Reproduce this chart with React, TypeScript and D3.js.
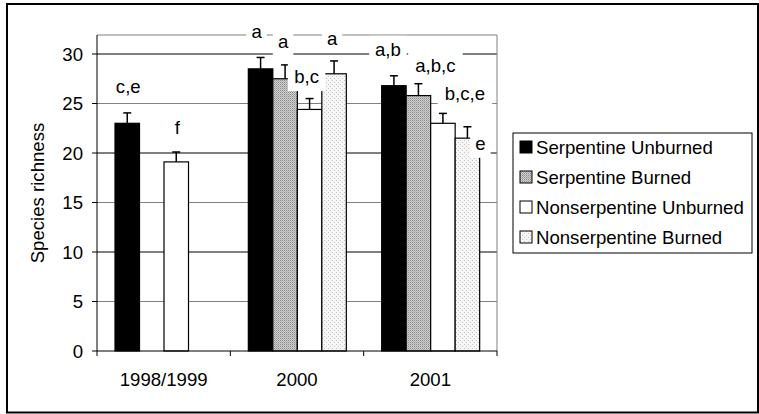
import * as d3 from "d3";

const categories = ["1998/1999", "2000", "2001"];
const seriesNames = [
  "Serpentine Unburned",
  "Serpentine Burned",
  "Nonserpentine Unburned",
  "Nonserpentine Burned",
];

// mean species richness per year (null = not sampled)
const serpUnburned = [23.0, 28.5, 26.8];
const serpBurned = [null, 27.5, 25.8];
const nonserpUnburned = [19.1, 24.4, 23.0];
const nonserpBurned = [null, 28.0, 21.5];

// upper error (SE)
const serpUnburnedErr = [1.05, 1.15, 1.0];
const serpBurnedErr = [null, 1.4, 1.2];
const nonserpUnburnedErr = [1.0, 1.1, 1.0];
const nonserpBurnedErr = [null, 1.3, 1.15];

// significance letters
const serpUnburnedSig = ["c,e", "a", "a,b"];
const serpBurnedSig = ["", "a", "a,b,c"];
const nonserpUnburnedSig = ["f", "b,c", "b,c,e"];
const nonserpBurnedSig = ["", "a", "e"];

const yTicks = [0, 5, 10, 15, 20, 25, 30];

// label placement relative to error bar top: [dx, dy] per series per year
const labelOffsets = [
  [[1, -26], [-4, -25.5], [-6, -26]],
  [[0, 0], [-2, -23], [17, -18]],
  [[1, -24], [-3, -21.5], [22, -19]],
  [[0, 0], [-2, -22], [13, 17]],
];

const means = [serpUnburned, serpBurned, nonserpUnburned, nonserpBurned];
const errs = [serpUnburnedErr, serpBurnedErr, nonserpUnburnedErr, nonserpBurnedErr];
const sigs = [serpUnburnedSig, serpBurnedSig, nonserpUnburnedSig, nonserpBurnedSig];
const fills = ["#000000", "url(#hatch)", "#ffffff", "url(#dots)"];

const W = 759;
const H = 414;
const PLOT = { LEFT: 97, RIGHT: 497, TOP: 35, BOTTOM: 351 };
const FONT = "'Liberation Sans', Arial, sans-serif";
const FS = 18.6;

const App = () => {
  const x0 = d3
    .scaleBand<string>()
    .domain(categories)
    .range([PLOT.LEFT, PLOT.RIGHT])
    .padding(0);
  const bw = x0.bandwidth();
  const x1 = d3
    .scaleBand<string>()
    .domain(seriesNames)
    .range([bw * 0.135, bw * 0.87])
    .padding(0);
  const y = d3.scaleLinear().domain([0, 30]).range([PLOT.BOTTOM, 54]);

  const bars: any[] = [];
  means.forEach((vals, si) => {
    vals.forEach((v, ci) => {
      if (v === null) return;
      const e = errs[si][ci] as number;
      const xl = (x0(categories[ci]) as number) + (x1(seriesNames[si]) as number);
      bars.push({
        si,
        ci,
        v,
        e,
        x: xl,
        cx: xl + x1.bandwidth() / 2,
        sig: sigs[si][ci],
        off: labelOffsets[si][ci],
      });
    });
  });

  const measure = (t: string) => t.length * 8.5;

  return (
    <svg
      width={W}
      height={H}
      style={{ position: "absolute", left: 0, top: 0, background: "#fff" }}
      fontFamily={FONT}
    >
      <defs>
        <pattern id="hatch" width="2" height="2" patternUnits="userSpaceOnUse">
          <rect width="2" height="2" fill="#d2d2d2" />
          <rect x="0" y="0" width="1" height="1" fill="#8a8a8a" />
          <rect x="1" y="1" width="1" height="1" fill="#a8a8a8" />
        </pattern>
        <pattern id="dots" width="4" height="4" patternUnits="userSpaceOnUse">
          <rect width="4" height="4" fill="#f6f6f6" />
          <rect x="0" y="0" width="1" height="1" fill="#c4c4c4" />
          <rect x="2" y="2" width="1" height="1" fill="#c4c4c4" />
        </pattern>
      </defs>

      {/* outer chart border */}
      <rect x={7} y={4} width={751} height={408.5} fill="none" stroke="#000" strokeWidth={2} />

      {/* gridlines */}
      {yTicks.slice(1).map((t) => (
        <line
          key={t}
          x1={PLOT.LEFT}
          x2={PLOT.RIGHT}
          y1={y(t)}
          y2={y(t)}
          stroke={t % 10 === 0 ? "#000" : "#808080"}
          strokeWidth={1}
        />
      ))}
      {/* plot frame top/right */}
      <line x1={PLOT.LEFT} x2={PLOT.RIGHT} y1={PLOT.TOP} y2={PLOT.TOP} stroke="#808080" />
      <line x1={PLOT.RIGHT} x2={PLOT.RIGHT} y1={PLOT.TOP} y2={PLOT.BOTTOM} stroke="#808080" />

      {/* bars */}
      {bars.map((b) => (
        <rect
          key={`b${b.si}-${b.ci}`}
          x={b.x}
          y={y(b.v)}
          width={x1.bandwidth()}
          height={PLOT.BOTTOM - y(b.v)}
          fill={fills[b.si]}
          stroke="#000"
          strokeWidth={1.2}
        />
      ))}

      {/* error bars */}
      {bars.map((b) => (
        <g key={`e${b.si}-${b.ci}`} stroke="#000" strokeWidth={1.5}>
          <line x1={b.cx} x2={b.cx} y1={y(b.v)} y2={y(b.v + b.e)} />
          <line x1={b.cx - 4} x2={b.cx + 4} y1={y(b.v + b.e)} y2={y(b.v + b.e)} />
        </g>
      ))}

      {/* axes */}
      <line x1={PLOT.LEFT} x2={PLOT.LEFT} y1={PLOT.TOP} y2={PLOT.BOTTOM} stroke="#000" />
      <line x1={PLOT.LEFT} x2={PLOT.RIGHT} y1={PLOT.BOTTOM} y2={PLOT.BOTTOM} stroke="#000" />
      {yTicks.map((t) => (
        <g key={`yt${t}`}>
          <line x1={PLOT.LEFT - 5} x2={PLOT.LEFT} y1={y(t)} y2={y(t)} stroke="#000" />
          <text x={83} y={y(t) + 6.5} fontSize={FS} textAnchor="end" fill="#000">
            {t}
          </text>
        </g>
      ))}
      {[...categories.map((c) => x0(c) as number), PLOT.RIGHT].map((xv, i) => (
        <line key={`xt${i}`} x1={xv} x2={xv} y1={PLOT.BOTTOM} y2={PLOT.BOTTOM + 5} stroke="#000" />
      ))}
      {categories.map((c) => (
        <text
          key={c}
          x={(x0(c) as number) + bw / 2}
          y={385.5}
          fontSize={FS}
          textAnchor="middle"
          fill="#000"
        >
          {c}
        </text>
      ))}
      <text
        transform={`translate(44, ${(PLOT.TOP + PLOT.BOTTOM) / 2}) rotate(-90)`}
        fontSize={FS}
        textAnchor="middle"
        fill="#000"
      >
        Species richness
      </text>

      {/* significance labels with white boxes */}
      {bars
        .filter((b) => b.sig)
        .map((b) => {
          const tx = b.cx + b.off[0];
          const ty = y(b.v + b.e) + b.off[1];
          const w = measure(b.sig) + 12;
          return (
            <g key={`l${b.si}-${b.ci}`}>
              <rect x={tx - w / 2} y={ty - 14} width={w} height={28} fill="#fff" />
              <text x={tx} y={ty + 6} fontSize={FS} textAnchor="middle" fill="#000">
                {b.sig}
              </text>
            </g>
          );
        })}

      {/* legend */}
      <rect x={513} y={133} width={239} height={120} fill="#fff" stroke="#000" strokeWidth={1} />
      {seriesNames.map((s, i) => (
        <g key={s} transform={`translate(520, ${147 + i * 30})`}>
          <rect x={0} y={-6} width={12} height={12} fill={fills[i]} stroke="#000" strokeWidth={1} />
          <text x={16} y={6.5} fontSize={FS} fill="#000">
            {s}
          </text>
        </g>
      ))}
    </svg>
  );
};

export default App;
